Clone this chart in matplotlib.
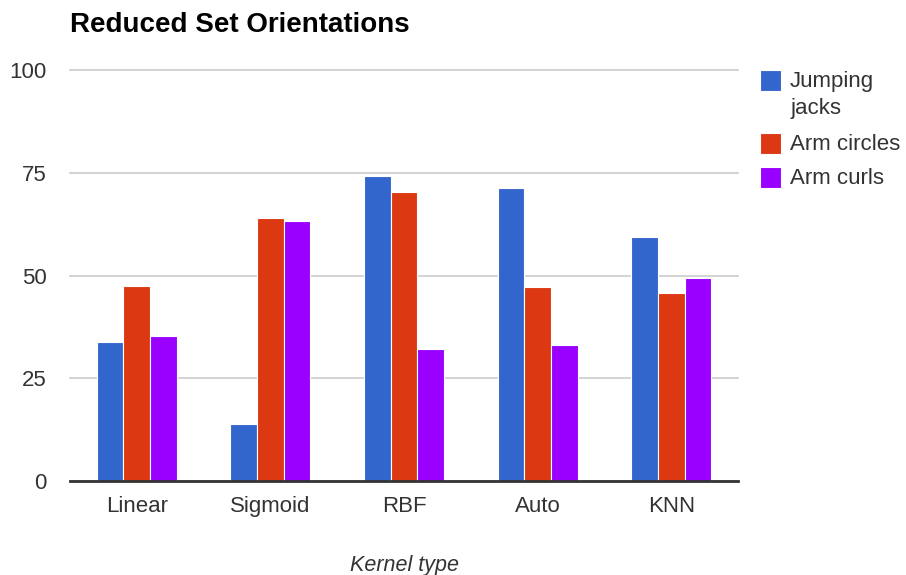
"""Grouped bar chart: reduced set orientations by kernel type."""

import matplotlib

matplotlib.use("Agg")
import matplotlib.pyplot as plt
import numpy as np
from matplotlib.patches import Rectangle

plt.rcParams["font.family"] = ["Liberation Sans", "DejaVu Sans"]

kernels = ["Linear", "Sigmoid", "RBF", "Auto", "KNN"]
jumping_jacks = [33.9, 13.8, 74.3, 71.2, 59.3]
arm_circles = [47.5, 64.1, 70.3, 47.1, 45.8]
arm_curls = [35.2, 63.3, 32.1, 33.0, 49.4]
series_names = ["Jumping\njacks", "Arm circles", "Arm curls"]
colors = ["#3366cc", "#dc3912", "#9900ff"]
y_ticks = [0, 25, 50, 75, 100]

TEXT = "#333333"

fig = plt.figure(figsize=(9.06, 5.75), dpi=100)
ax = fig.add_axes([70 / 906, 94 / 575, 668 / 906, 411 / 575])

x = np.arange(len(kernels))
width = 0.2
for i, (vals, color) in enumerate(zip([jumping_jacks, arm_circles, arm_curls], colors)):
    ax.bar(x + (i - 1) * width, vals, width, color=color,
           edgecolor="white", linewidth=0.8, zorder=3)

ax.set_xlim(-0.5, len(kernels) - 0.5)
ax.set_ylim(0, 100)
ax.set_yticks(y_ticks)
ax.set_yticklabels([str(t) for t in y_ticks])
ax.set_xticks(x)
ax.set_xticklabels(kernels)
ax.tick_params(axis="both", length=0, labelsize=16, colors=TEXT)
ax.tick_params(axis="y", pad=17)
ax.tick_params(axis="x", pad=22)
for lbl in ax.get_xticklabels():
    lbl.set_va("baseline")
ax.grid(axis="y", color="#cccccc", linewidth=1.2, zorder=0)
for gl in ax.get_ygridlines():
    gl.set_clip_on(False)
ax.axhline(0, color="#333333", linewidth=2, zorder=4, clip_on=False)
for side in ["top", "right", "left", "bottom"]:
    ax.spines[side].set_visible(False)

ax.set_xlabel("Kernel type", fontsize=15.5, style="italic", color=TEXT, labelpad=28)

fig.text(70 / 906, 1 - 32 / 575, "Reduced Set Orientations", fontsize=20,
         fontweight="bold", ha="left", va="baseline", color="#000000")

# legend drawn by hand to match the wrapped first label
legend_rows = [70, 133, 167]
for name, color, top in zip(series_names, colors, legend_rows):
    fig.add_artist(Rectangle((760 / 906, 1 - (top + 21) / 575), 21 / 906, 21 / 575,
                             transform=fig.transFigure, facecolor=color,
                             edgecolor="white", linewidth=0.8))
    for k, line in enumerate(name.split("\n")):
        fig.text(790 / 906, 1 - (top + 17 + 27 * k) / 575, line, fontsize=16,
                 color=TEXT, ha="left", va="baseline")

fig.savefig("out.png", dpi=100, facecolor="white")
